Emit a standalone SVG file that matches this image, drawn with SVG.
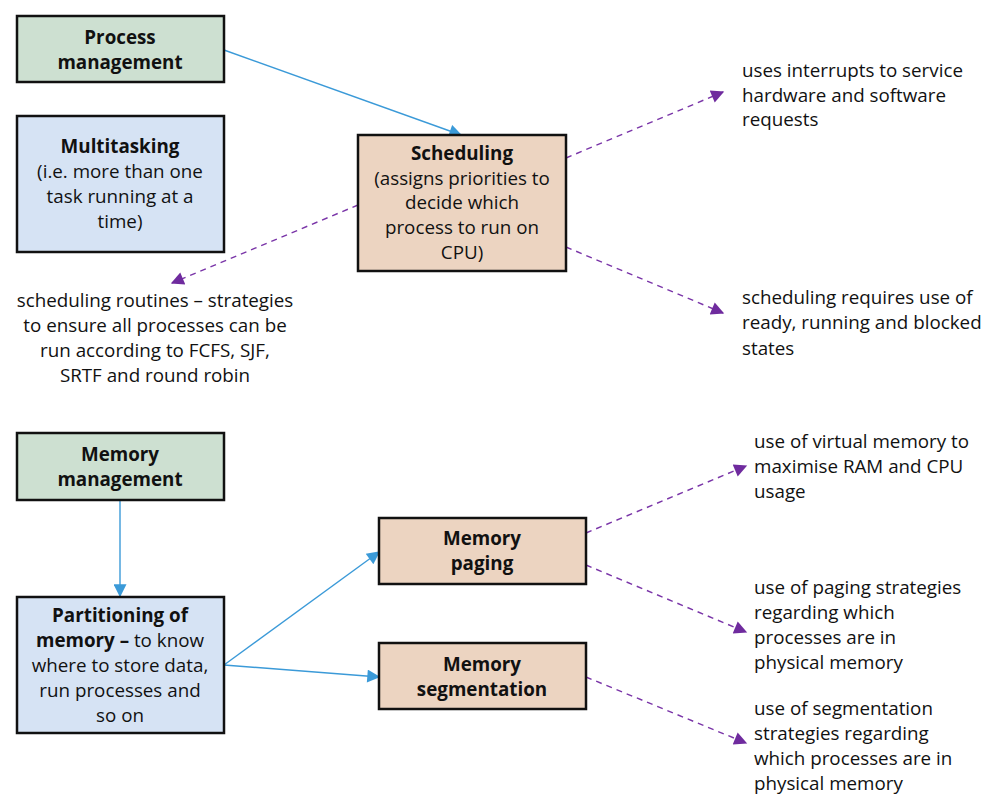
<svg xmlns="http://www.w3.org/2000/svg" width="990" height="802" viewBox="0 0 990 802">
<defs>
<style>
text{font-family:"Open Sans","Noto Sans","Liberation Sans",sans-serif;font-size:18.8px;fill:#111}
.b{font-weight:bold}
.c{text-anchor:middle}
.box{stroke:#111;stroke-width:2.5}
.g{fill:#cde0d1}
.bl{fill:#d6e3f4}
.t{fill:#ecd4c1}
.sol{stroke:#3b9ad8;stroke-width:1.4;fill:none}
.dsh{stroke:#7a35a8;stroke-width:1.4;fill:none;stroke-dasharray:6 5}
</style>
<marker id="ab" viewBox="0 0 10 10" refX="9" refY="5" markerWidth="15" markerHeight="13" markerUnits="userSpaceOnUse" orient="auto"><path d="M0,0 L10,5 L0,10 z" fill="#3b9ad8"/></marker>
<marker id="ap" viewBox="0 0 10 10" refX="9" refY="5" markerWidth="15" markerHeight="13" markerUnits="userSpaceOnUse" orient="auto"><path d="M0,0 L10,5 L0,10 z" fill="#6f2b9e"/></marker>
</defs>
<rect width="990" height="802" fill="#fff"/>
<g id="connectors">
<line class="sol" x1="224" y1="50" x2="461" y2="135" marker-end="url(#ab)"/>
<line class="sol" x1="120" y1="500" x2="120" y2="596" marker-end="url(#ab)"/>
<line class="sol" x1="224" y1="665" x2="379" y2="552" marker-end="url(#ab)"/>
<line class="sol" x1="224" y1="665" x2="379" y2="677" marker-end="url(#ab)"/>
<line class="dsh" x1="358" y1="205" x2="172" y2="283" marker-end="url(#ap)"/>
<line class="dsh" x1="566" y1="158" x2="723" y2="92" marker-end="url(#ap)"/>
<line class="dsh" x1="566" y1="247" x2="723" y2="313" marker-end="url(#ap)"/>
<line class="dsh" x1="586" y1="533" x2="746" y2="466" marker-end="url(#ap)"/>
<line class="dsh" x1="586" y1="565" x2="746" y2="632" marker-end="url(#ap)"/>
<line class="dsh" x1="586" y1="677" x2="746" y2="743" marker-end="url(#ap)"/>
</g>
<g id="process-management">
<rect class="box g" x="17" y="16" width="207" height="66"/>
<text class="b c" x="120" y="44">Process</text>
<text class="b c" x="120" y="69">management</text>
</g>
<g id="multitasking">
<rect class="box bl" x="17" y="116" width="207" height="136"/>
<text class="b c" x="120" y="153">Multitasking</text>
<text class="c" x="120" y="178">(i.e. more than one</text>
<text class="c" x="120" y="203">task running at a</text>
<text class="c" x="120" y="228">time)</text>
</g>
<g id="scheduling">
<rect class="box t" x="358" y="135" width="208" height="136"/>
<text class="b c" x="462" y="160">Scheduling</text>
<text class="c" x="462" y="185">(assigns priorities to</text>
<text class="c" x="462" y="209">decide which</text>
<text class="c" x="462" y="234">process to run on</text>
<text class="c" x="462" y="259">CPU)</text>
</g>
<g id="scheduling-routines">
<text class="c" x="155" y="307">scheduling routines – strategies</text>
<text class="c" x="155" y="332">to ensure all processes can be</text>
<text class="c" x="155" y="357">run according to FCFS, SJF,</text>
<text class="c" x="155" y="382">SRTF and round robin</text>
</g>
<g id="interrupts">
<text x="742" y="77">uses interrupts to service</text>
<text x="742" y="102">hardware and software</text>
<text x="742" y="126">requests</text>
</g>
<g id="states">
<text x="742" y="304">scheduling requires use of</text>
<text x="742" y="329">ready, running and blocked</text>
<text x="742" y="355">states</text>
</g>
<g id="memory-management">
<rect class="box g" x="17" y="433" width="207" height="67"/>
<text class="b c" x="120" y="461">Memory</text>
<text class="b c" x="120" y="486">management</text>
</g>
<g id="partitioning">
<rect class="box bl" x="17" y="597" width="207" height="136"/>
<text class="b c" x="120" y="622">Partitioning of</text>
<text class="c" x="120" y="647"><tspan class="b">memory –</tspan> to know</text>
<text class="c" x="120" y="672">where to store data,</text>
<text class="c" x="120" y="697">run processes and</text>
<text class="c" x="120" y="722">so on</text>
</g>
<g id="memory-paging">
<rect class="box t" x="379" y="518" width="207" height="66"/>
<text class="b c" x="482" y="545">Memory</text>
<text class="b c" x="482" y="570">paging</text>
</g>
<g id="memory-segmentation">
<rect class="box t" x="379" y="643" width="207" height="66"/>
<text class="b c" x="482" y="671">Memory</text>
<text class="b c" x="482" y="696">segmentation</text>
</g>
<g id="virtual-memory">
<text x="754" y="448">use of virtual memory to</text>
<text x="754" y="473">maximise RAM and CPU</text>
<text x="754" y="498">usage</text>
</g>
<g id="paging-strategies">
<text x="754" y="594">use of paging strategies</text>
<text x="754" y="619">regarding which</text>
<text x="754" y="644">processes are in</text>
<text x="754" y="669">physical memory</text>
</g>
<g id="segmentation-strategies">
<text x="754" y="715">use of segmentation</text>
<text x="754" y="740">strategies regarding</text>
<text x="754" y="765">which processes are in</text>
<text x="754" y="790">physical memory</text>
</g>
</svg>
